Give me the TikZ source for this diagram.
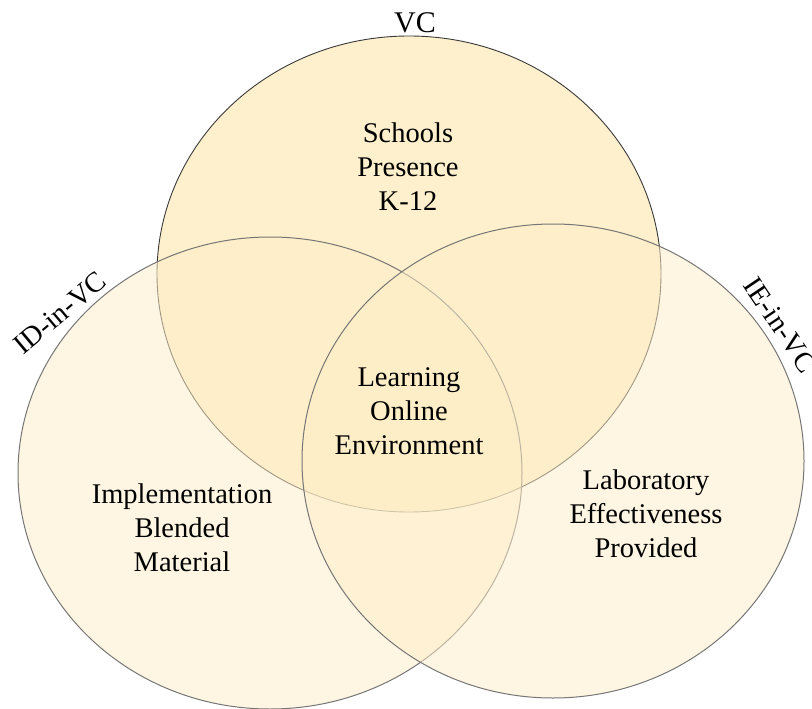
\documentclass[tikz,border=0pt]{standalone}
\usepackage{fontspec}
\setmainfont{Liberation Serif}
\definecolor{vfill}{RGB}{254,238,200}
\definecolor{vtop}{RGB}{254,240,204}
\definecolor{edgetop}{RGB}{58,58,58}
\definecolor{edgeside}{RGB}{118,118,118}
\begin{document}
\begin{tikzpicture}[x=1pt,y=-1pt,
  lbl/.style={inner sep=0pt,align=center,font=\fontsize{28.5}{34}\selectfont},
  sidecircle/.style={fill=vfill,fill opacity=0.52,draw=edgeside,line width=1pt},
  topcircle/.style={fill=vtop,draw=edgetop,line width=0.9pt}]
\useasboundingbox (0,0) rectangle (812,709);
\fill[white] (0,0) rectangle (812,709);
% circles
\draw[topcircle] (409,274) ellipse [x radius=252pt, y radius=238pt];
\draw[sidecircle] (270,473) ellipse [x radius=252pt, y radius=236pt];
\draw[sidecircle] (553,461) ellipse [x radius=251pt, y radius=237pt];
% labels
\node[lbl,font=\fontsize{30}{36}\selectfont,anchor=base] (vc) at (415,33) {VC};
\node[lbl,rotate=40] (idvc) at (60,313) {ID-in-VC};
\node[lbl,rotate=-56] (ievc) at (780,325) {IE-in-VC};
\node[lbl] (schools) at (408,167) {Schools\\Presence\\K-12};
\node[lbl] (learning) at (409,411.5) {Learning\\Online\\Environment};
\node[lbl] (impl) at (182,528) {Implementation\\Blended\\Material};
\node[lbl] (lab) at (646,513.5) {Laboratory\\Effectiveness\\Provided};
\end{tikzpicture}
\end{document}
